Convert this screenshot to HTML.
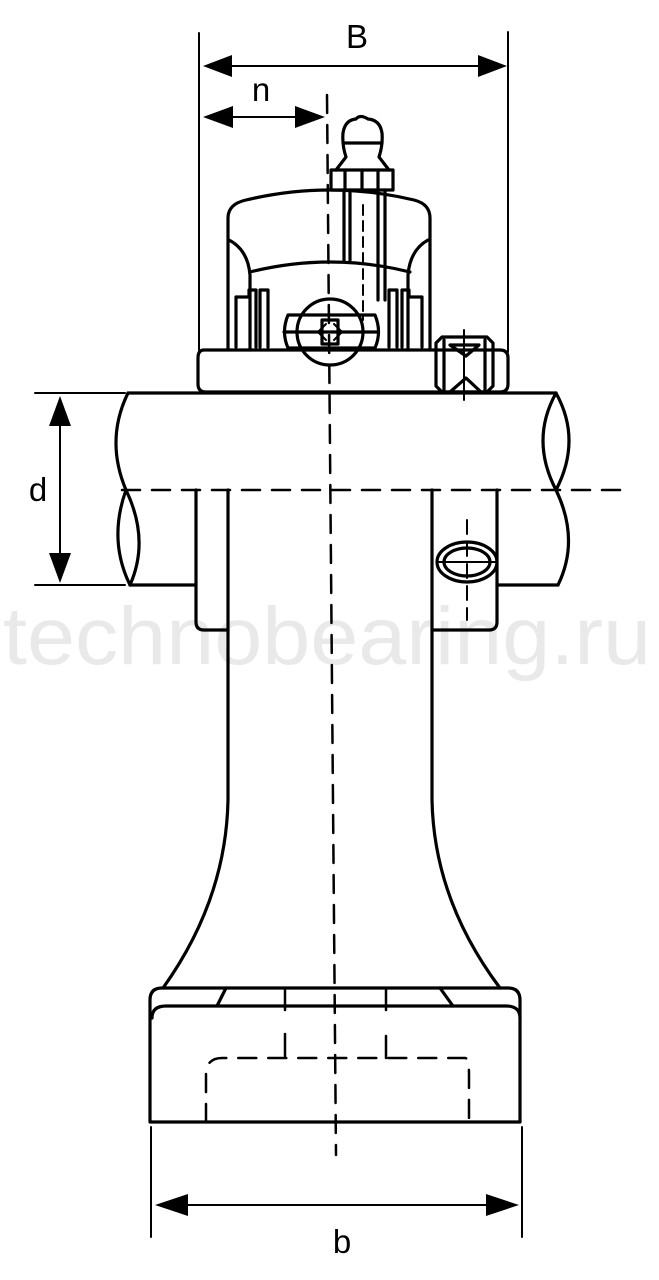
<!DOCTYPE html>
<html><head><meta charset="utf-8"><style>
html,body{margin:0;padding:0;background:#fff;}
svg{display:block;}
</style></head><body>
<svg width="659" height="1280" viewBox="0 0 659 1280" xmlns="http://www.w3.org/2000/svg">
<text x="327" y="664" font-family="Liberation Sans, sans-serif" font-size="82" fill="#e9e9e9" text-anchor="middle" textLength="648" lengthAdjust="spacingAndGlyphs">technobearing.ru</text>
<g fill="none" stroke="#000" stroke-width="3.2" stroke-linejoin="round" stroke-linecap="round">
<line x1="199" y1="33" x2="199" y2="350" stroke-width="2"/>
<line x1="508" y1="32" x2="508" y2="352" stroke-width="2"/>
<line x1="220" y1="66" x2="490" y2="66" stroke-width="2"/>
<line x1="220" y1="117" x2="305" y2="117" stroke-width="2"/>
<line x1="327" y1="95" x2="336" y2="1155" stroke-width="2.5" stroke-dasharray="18,12"/>
<line x1="122" y1="490" x2="632" y2="490" stroke-width="2.5" stroke-dasharray="18,12"/>
<path d="M204 350 H500 Q508 350 508 358 V384 Q508 392 500 392 H206 Q198 392 198 384 V358 Q198 350 204 350 Z"/>
<path d="M228 350 V218 Q228 204 246 200 Q330 180 414 200 Q430 204 430 218 V350"/>
<path d="M229 240 Q248 250 250 275 V350"/>
<path d="M428 240 Q410 250 408 275 V350"/>
<path d="M250 272 Q330 252 410 272"/>
<path d="M236 347 V297 H249 V290 H256 V347"/>
<path d="M260 347 V290 H268 V347"/>
<path d="M422 347 V297 H409 V290 H402 V347"/>
<path d="M397 347 V290 H389 V347"/>
<circle cx="330" cy="332" r="33"/>
<path d="M288 315 H375 Q382 332 375 348 H288 Q281 332 288 315 Z"/>
<line x1="284" y1="332" x2="378" y2="332"/>
<rect x="322" y="320" width="16" height="24"/>
<path d="M318 332 L326 324 M318 332 L326 340 M342 332 L334 324 M342 332 L334 340" stroke-width="2"/>
<line x1="344" y1="190" x2="344" y2="260"/><line x1="350" y1="190" x2="350" y2="260"/>
<line x1="378" y1="190" x2="378" y2="300"/><line x1="385" y1="190" x2="385" y2="300"/>
<line x1="363" y1="205" x2="363" y2="320" stroke-width="2" stroke-dasharray="10,6"/>
<rect x="331" y="170" width="62" height="20"/>
<line x1="345" y1="170" x2="345" y2="190"/><line x1="362" y1="170" x2="362" y2="190"/><line x1="378" y1="170" x2="378" y2="190"/>
<path d="M336 170 L346 157 Q342 145 343 133 Q345 120 356 119 Q360 114 368 119 Q380 120 382 133 Q383 145 379 157 L389 170"/>
<line x1="344" y1="143" x2="382" y2="143"/>
<path d="M442 337 H487 L493 343 V386 L487 392 H442 L436 386 V343 Z"/>
<line x1="444" y1="340" x2="444" y2="390"/><line x1="485" y1="340" x2="485" y2="390"/>
<path d="M450 345 H479 L466 356 Z M450 392 L466 378 L481 392"/>
<line x1="464" y1="330" x2="464" y2="400" stroke-width="2"/>
<line x1="128" y1="393" x2="556" y2="393"/>
<path d="M128 393 Q105 440 126 490 Q108 540 130 585"/>
<path d="M126 490 Q150 540 130 585"/>
<path d="M556 393 Q530 440 556 490 Q582 440 556 393"/>
<path d="M556 490 Q580 540 558 585"/>
<line x1="130" y1="585" x2="196" y2="585"/>
<line x1="497" y1="585" x2="558" y2="585"/>
<line x1="35" y1="393" x2="125" y2="393" stroke-width="2"/>
<line x1="35" y1="585" x2="125" y2="585" stroke-width="2"/>
<line x1="60" y1="410" x2="60" y2="568" stroke-width="2"/>
<path d="M196 490 V622 Q196 630 204 630 H228"/>
<path d="M432 630 H489 Q497 630 497 622 V490"/>
<ellipse cx="467" cy="562" rx="30" ry="20"/>
<ellipse cx="467" cy="562" rx="23" ry="14"/>
<line x1="467" y1="520" x2="467" y2="620" stroke-width="2" stroke-dasharray="14,8"/>
<line x1="438" y1="562" x2="496" y2="562" stroke-width="2"/>
<path d="M228 490 V800 Q226 900 163 988"/>
<path d="M432 490 V800 Q434 900 500 988"/>
<path d="M150 1122 V1000 Q150 988 162 988 H508 Q520 988 520 1000 V1122 Z"/>
<path d="M152 1018 Q152 1006 166 1006 H506 Q520 1006 520 1018"/>
<line x1="226" y1="988" x2="217" y2="1006"/>
<line x1="440" y1="988" x2="453" y2="1006"/>
<line x1="285" y1="988" x2="285" y2="1010" stroke-width="2.5"/>
<line x1="386" y1="988" x2="386" y2="1010" stroke-width="2.5"/>
<line x1="285" y1="1034" x2="285" y2="1056" stroke-width="2.5"/>
<line x1="386" y1="1036" x2="386" y2="1058" stroke-width="2.5"/>
<path d="M206 1122 V1075 Q206 1058 222 1058 H465 Q469 1058 469 1075 V1122" stroke-width="2.5" stroke-dasharray="18,12"/>
<line x1="151" y1="1127" x2="151" y2="1237" stroke-width="2"/>
<line x1="522" y1="1127" x2="522" y2="1237" stroke-width="2"/>
<line x1="175" y1="1205" x2="498" y2="1205" stroke-width="2"/>
</g>
<g fill="#000">
<path d="M203 66 L232 55 L232 77 Z"/><path d="M507 66 L478 55 L478 77 Z"/>
<path d="M203 117 L233 106 L233 128 Z"/><path d="M325 117 L295 106 L295 128 Z"/>
<path d="M60 396 L49 426 L71 426 Z"/><path d="M60 583 L49 553 L71 553 Z"/>
<path d="M155 1205 L188 1194 L188 1216 Z"/><path d="M519 1205 L486 1194 L486 1216 Z"/>
</g>
<g font-family="Liberation Sans, sans-serif" font-size="33" fill="#000" text-anchor="middle">
<text x="357" y="48">B</text>
<text x="261" y="101">n</text>
<text x="38" y="501">d</text>
<text x="342" y="1253">b</text>
</g>
</svg>
</body></html>
